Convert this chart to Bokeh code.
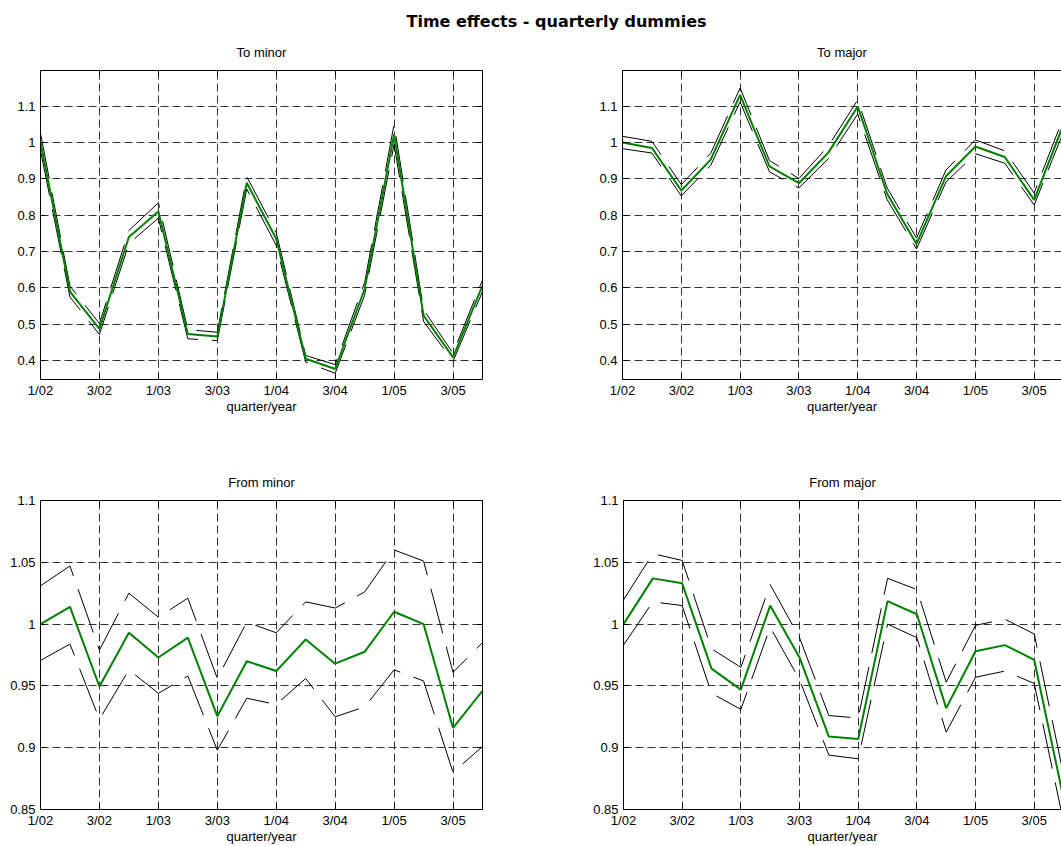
from bokeh.plotting import figure
from bokeh.layouts import column, row
from bokeh.models import Range1d, FixedTicker, LinearAxis, Label
from bokeh.embed import file_html
from bokeh.resources import INLINE

# ---------------- data ----------------
quarters = ["1/02", "2/02", "3/02", "4/02", "1/03", "2/03", "3/03", "4/03",
            "1/04", "2/04", "3/04", "4/04", "1/05", "2/05", "3/05", "4/05"]
x_ticks = [0, 2, 4, 6, 8, 10, 12, 14]
x_tick_labels = ["1/02", "3/02", "1/03", "3/03", "1/04", "3/04", "1/05", "3/05"]

top_y_ticks = [0.4, 0.5, 0.6, 0.7, 0.8, 0.9, 1.0, 1.1]
top_y_labels = ["0.4", "0.5", "0.6", "0.7", "0.8", "0.9", "1", "1.1"]
bot_y_ticks = [0.85, 0.9, 0.95, 1.0, 1.05, 1.1]
bot_y_labels = ["0.85", "0.9", "0.95", "1", "1.05", "1.1"]

to_minor = [1.0, 0.59, 0.487, 0.74, 0.81, 0.473, 0.466, 0.889,
            0.735, 0.405, 0.377, 0.597, 1.022, 0.524, 0.409, 0.606]
to_minor_hi = [1.025, 0.605, 0.502, 0.758, 0.834, 0.485, 0.478, 0.906,
               0.752, 0.414, 0.389, 0.615, 1.05, 0.54, 0.42, 0.622]
to_minor_lo = [0.978, 0.575, 0.472, 0.722, 0.792, 0.46, 0.455, 0.872,
               0.717, 0.396, 0.365, 0.58, 0.995, 0.508, 0.398, 0.59]

to_major = [1.0, 0.985, 0.868, 0.953, 1.131, 0.934, 0.888, 0.972,
            1.099, 0.859, 0.721, 0.907, 0.989, 0.96, 0.842, 1.05]
to_major_hi = [1.017, 1.003, 0.884, 0.97, 1.15, 0.95, 0.901, 0.99,
               1.117, 0.875, 0.737, 0.924, 1.007, 0.977, 0.861, 1.07]
to_major_lo = [0.983, 0.971, 0.853, 0.937, 1.112, 0.919, 0.875, 0.955,
               1.078, 0.843, 0.707, 0.891, 0.969, 0.943, 0.828, 1.03]

from_minor = [1.0, 1.014, 0.9495, 0.993, 0.973, 0.989, 0.9255, 0.97,
              0.962, 0.9875, 0.968, 0.9776, 1.01, 1.0, 0.916, 0.946]
from_minor_hi = [1.031, 1.047, 0.979, 1.025, 1.0056, 1.021, 0.956, 1.0016,
                 0.993, 1.018, 1.013, 1.026, 1.06, 1.051, 0.961, 0.985]
from_minor_lo = [0.9706, 0.9838, 0.923, 0.963, 0.944, 0.958, 0.898, 0.94,
                 0.935, 0.956, 0.925, 0.933, 0.963, 0.954, 0.88, 0.901]

from_major = [1.0, 1.037, 1.033, 0.964, 0.947, 1.015, 0.973, 0.909,
              0.907, 1.0186, 1.008, 0.932, 0.978, 0.983, 0.971, 0.859]
from_major_hi = [1.0196, 1.057, 1.0515, 0.98, 0.965, 1.032, 0.989, 0.926,
                 0.924, 1.037, 1.028, 0.953, 0.999, 1.004, 0.992, 0.878]
from_major_lo = [0.983, 1.018, 1.015, 0.944, 0.931, 0.9975, 0.955, 0.894,
                 0.891, 1.0, 0.989, 0.9126, 0.957, 0.962, 0.952, 0.84]

positions = list(range(len(quarters)))

FONT = "Liberation Sans"
GREEN = "#008000"


def style_axis(ax):
    ax.major_tick_in = 5
    ax.major_tick_out = 0
    ax.minor_tick_in = 0
    ax.minor_tick_out = 0
    ax.axis_line_color = "black"
    ax.major_tick_line_color = "black"


def panel(title, est, lo, hi, y_ticks, y_labels, y_lo, y_hi, x_end,
          width, mb_left, mb_right, height, mb_top, mb_bottom, right_axis):
    p = figure(width=width, height=height,
               x_range=Range1d(0, x_end), y_range=Range1d(y_lo, y_hi),
               output_backend="svg", toolbar_location=None, title=None,
               min_border_left=mb_left, min_border_right=mb_right,
               min_border_top=mb_top, min_border_bottom=mb_bottom)
    p.outline_line_color = None
    p.background_fill_color = "white"
    p.border_fill_color = "white"

    xt = FixedTicker(ticks=x_ticks, minor_ticks=[])
    yt = FixedTicker(ticks=y_ticks, minor_ticks=[])

    xax = p.xaxis[0]
    xax.ticker = xt
    xax.major_label_overrides = dict(zip(x_ticks, x_tick_labels))
    xax.axis_label = "quarter/year"
    xax.axis_label_text_font = FONT
    xax.axis_label_text_font_size = "13px"
    xax.axis_label_text_font_style = "normal"
    xax.axis_label_text_color = "black"
    xax.axis_label_standoff = -2
    xax.major_label_standoff = 3

    yax = p.yaxis[0]
    yax.ticker = yt
    yax.major_label_overrides = dict(zip(y_ticks, y_labels))
    yax.major_label_standoff = 5

    for ax in (xax, yax):
        ax.major_label_text_font = FONT
        ax.major_label_text_font_size = "13px"
        ax.major_label_text_color = "black"
        style_axis(ax)

    # top border with inward ticks; carries the panel title
    top = LinearAxis(ticker=xt)
    style_axis(top)
    top.major_label_text_color = None
    top.major_label_standoff = 0
    top.axis_label = title
    top.axis_label_text_font = FONT
    top.axis_label_text_font_size = "13px"
    top.axis_label_text_font_style = "normal"
    top.axis_label_text_color = "black"
    top.axis_label_standoff = 11
    p.add_layout(top, "above")

    if right_axis:
        rgt = LinearAxis(ticker=yt)
        style_axis(rgt)
        rgt.major_label_text_color = None
        rgt.major_label_standoff = 0
        p.add_layout(rgt, "right")

    p.xgrid.ticker = xt
    p.ygrid.ticker = yt
    p.grid.grid_line_color = "black"
    p.grid.grid_line_dash = "8 4"
    p.grid.grid_line_width = 1
    p.grid.grid_line_alpha = 0.8

    p.line(positions, hi, line_color="black", line_width=1, line_dash="46 14")
    p.line(positions, lo, line_color="black", line_width=1, line_dash="46 14")
    p.line(positions, est, line_color=GREEN, line_width=2)
    return p


LEFT_W, RIGHT_W = 590, 471
TITLE_H, TOP_H, BOT_H = 30, 438, 378

tl = panel("To minor", to_minor, to_minor_lo, to_minor_hi, top_y_ticks, top_y_labels,
           0.348, 1.198, 15, LEFT_W, 40, 108, TOP_H, 40, 89, True)
tr = panel("To major", to_major, to_major_lo, to_major_hi, top_y_ticks, top_y_labels,
           0.348, 1.198, 14.93, RIGHT_W, 32, 0, TOP_H, 40, 89, False)
bl = panel("From minor", from_minor, from_minor_lo, from_minor_hi, bot_y_ticks, bot_y_labels,
           0.85, 1.1, 15, LEFT_W, 40, 108, BOT_H, 32, 37, True)
br = panel("From major", from_major, from_major_lo, from_major_hi, bot_y_ticks, bot_y_labels,
           0.85, 1.1, 14.93, RIGHT_W, 32, 0, BOT_H, 32, 37, False)

TITLE_W = LEFT_W + RIGHT_W
tp = figure(width=TITLE_W, height=TITLE_H, x_range=Range1d(0, TITLE_W),
            y_range=Range1d(0, TITLE_H), output_backend="svg",
            toolbar_location=None, title=None, min_border=0,
            x_axis_location=None, y_axis_location=None)
tp.grid.visible = False
tp.outline_line_color = None
tp.add_layout(Label(x=556, y=9, text="Time effects - quarterly dummies",
                    text_align="center", text_baseline="middle",
                    text_font="DejaVu Sans", text_font_size="16px",
                    text_font_style="bold", text_color="black"))

layout = column(tp, row(tl, tr), row(bl, br))

open("out.html", "w").write(file_html(layout, INLINE))
